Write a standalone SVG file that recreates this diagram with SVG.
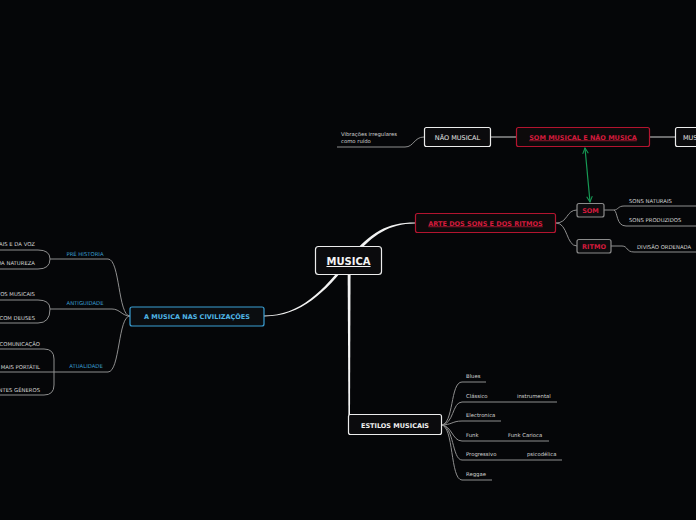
<svg xmlns="http://www.w3.org/2000/svg" width="696" height="520" viewBox="0 0 696 520">
<defs>
<style>
.bg{fill:#050608}
.ln{fill:none;stroke:#8e8e8e;stroke-width:1}
.lnw{fill:none;stroke:#d0d0d0;stroke-width:1}
.tap{fill:#f2f2f2}
.bw{fill:#0b0b0d;stroke:#ececec;stroke-width:1.2}
.br{fill:#0d0a0b;stroke:#b3142f;stroke-width:1.2}
.bb{fill:#0a0d10;stroke:#3a9fd4;stroke-width:1.2}
.bg2{fill:#0d0d0f;stroke:#8c8c8c;stroke-width:1.2}
text{font-family:"DejaVu Sans","Liberation Sans",sans-serif}
.s{font-size:5.3px;fill:#d6d6d6}
.sb{font-size:5.3px;fill:#3a9fd0}
.t{font-size:6.5px;fill:#e6e6e6}
.tb{font-size:6.5px;font-weight:bold;fill:#f0f0f0}
.tr{font-size:6.5px;font-weight:bold;fill:#d41a3c}
.tbl{font-size:6.5px;font-weight:bold;fill:#4fb6e6}
.green{fill:none;stroke:#179a55;stroke-width:1.2}
</style>
<marker id="ah" viewBox="0 0 10 10" refX="9" refY="5" markerWidth="7" markerHeight="7" orient="auto-start-reverse" markerUnits="userSpaceOnUse">
<path d="M1,1 L9,5 L1,9" fill="none" stroke="#179a55" stroke-width="1.5"/>
</marker>
</defs>
<rect class="bg" x="0" y="0" width="696" height="520"/>

<g id="connectors">
<path class="tap" d="M347.2,260 C369,234 385,222.6 415,222.6 L415,223.4 C386,223.8 371,236.5 349,262 Z"/>
<path class="tap" d="M347.2,260 C324,290 300,315.6 264,315.6 L264,316.4 C301,316.6 326,291.5 349,262 Z"/>
<path class="tap" d="M347.6,262 L350.6,262 L350,415 L348.4,415 Z"/>
<path class="lnw" d="M490,137 H516"/>
<path class="lnw" d="M649,137 H675"/>
<path class="ln" d="M337,147 H405 C414,147 414,137 424,137"/>
<path class="green" d="M585,148 L590,202" marker-start="url(#ah)" marker-end="url(#ah)"/>
<path class="ln" d="M556,223 C568,223 566,210 577,210"/>
<path class="ln" d="M556,223 C568,223 566,246 577,246"/>
<path class="ln" d="M604,210 H614 C618,210 618,206 624,206 H696"/>
<path class="ln" d="M614,210 C618,212 616,226 626,226 H696"/>
<path class="ln" d="M611,246 H622 C628,246 626,252 634,252 H696"/>
<path class="ln" d="M441,425 C454,425 450,382 462,382 H486"/>
<path class="ln" d="M441,425 C454,425 452,402 462,402 H557"/>
<path class="ln" d="M441,425 C452,425 452,421 462,421 H501"/>
<path class="ln" d="M441,425 C452,425 452,441 462,441 H549"/>
<path class="ln" d="M441,425 C454,425 452,460 462,460 H562"/>
<path class="ln" d="M441,425 C454,425 450,480 462,480 H492"/>
<path class="ln" d="M130,316 C118,316 120,259 108,259 H50"/>
<path class="ln" d="M130,316 C122,316 120,309 112,309 H50"/>
<path class="ln" d="M130,316 C118,316 120,372 108,372 H0"/>
<path class="ln" d="M0,250 H38 Q50,250 50,259 Q50,269 38,269 H0"/>
<path class="ln" d="M0,300 H38 Q50,300 50,309 Q50,323 38,323 H0"/>
<path class="ln" d="M0,349 H44 Q54,349 54,359 V385 Q54,395 44,395 H0"/>
</g>

<g id="musica">
<rect class="bw" x="315.5" y="246.5" width="66" height="28" rx="3"/>
<text x="348.5" y="265" text-anchor="middle" style="font-size:10px;font-weight:bold;fill:#f4f4f4;text-decoration:underline">MUSICA</text>
</g>

<g id="arte">
<rect class="br" x="415.5" y="213.5" width="140" height="19" rx="2"/>
<text class="tr" x="485.5" y="225.5" text-anchor="middle" style="text-decoration:underline">ARTE DOS SONS E DOS RITMOS</text>
</g>

<g id="som-musical">
<rect class="br" x="516.5" y="127.5" width="133" height="19" rx="2"/>
<text class="tr" x="583" y="139.5" text-anchor="middle" style="text-decoration:underline">SOM MUSICAL E NÃO MUSICA</text>
</g>

<g id="nao-musical">
<rect class="bw" x="424.5" y="127.5" width="66" height="19" rx="2"/>
<text class="t" x="457.5" y="139.5" text-anchor="middle">NÃO MUSICAL</text>
</g>

<g id="musical">
<rect class="bw" x="675.5" y="127.5" width="60" height="19" rx="2"/>
<text class="t" x="683" y="139.5">MUSICAL</text>
</g>

<g id="vibracoes">
<text class="s" x="341" y="136">Vibrações irregulares</text>
<text class="s" x="341" y="143">como ruído</text>
</g>

<g id="som">
<rect class="bg2" x="577" y="203.5" width="27" height="13.5" rx="2"/>
<text class="tr" x="590.5" y="212.5" text-anchor="middle">SOM</text>
</g>

<g id="ritmo">
<rect class="bg2" x="577" y="239.5" width="34" height="13.5" rx="2"/>
<text class="tr" x="594" y="248.5" text-anchor="middle">RITMO</text>
</g>

<g id="som-leaves">
<text class="s" x="629" y="203">SONS NATURAIS</text>
<text class="s" x="629" y="222">SONS PRODUZIDOS</text>
<text class="s" x="637" y="248.5">DIVISÃO ORDENADA</text>
</g>

<g id="estilos">
<rect class="bw" x="348.5" y="414.5" width="93" height="20" rx="2"/>
<text class="tb" x="395" y="427.5" text-anchor="middle">ESTILOS MUSICAIS</text>
</g>

<g id="estilos-leaves">
<text class="s" x="466" y="378">Blues</text>
<text class="s" x="466" y="398">Clássico</text>
<text class="s" x="517" y="398">instrumental</text>
<text class="s" x="466" y="417">Electronica</text>
<text class="s" x="466" y="437">Funk</text>
<text class="s" x="508" y="437">Funk Carioca</text>
<text class="s" x="466" y="456">Progressivo</text>
<text class="s" x="527" y="456">psicodélica</text>
<text class="s" x="466" y="476">Reggae</text>
</g>

<g id="civilizacoes">
<rect class="bb" x="130" y="307" width="134" height="19" rx="2"/>
<text class="tbl" x="197" y="318.8" text-anchor="middle">A MUSICA NAS CIVILIZAÇÕES</text>
</g>

<g id="civ-leaves">
<text class="sb" x="85" y="256" text-anchor="middle">PRÉ HISTORIA</text>
<text class="sb" x="85" y="305" text-anchor="middle">ANTIGUIDADE</text>
<text class="sb" x="86" y="368" text-anchor="middle">ATUALIDADE</text>
<text class="s" x="35" y="246" text-anchor="end">SONS CORPORAIS E DA VOZ</text>
<text class="s" x="35" y="265" text-anchor="end">SONS DA NATUREZA</text>
<text class="s" x="35" y="296" text-anchor="end">INSTRUMENTOS MUSICAIS</text>
<text class="s" x="35" y="319.5" text-anchor="end">COMUNICAÇÃO COM DEUSES</text>
<text class="s" x="40" y="346" text-anchor="end">MEIO DE COMUNICAÇÃO</text>
<text class="s" x="40" y="368.5" text-anchor="end">MAIS PORTÁTIL</text>
<text class="s" x="40" y="391.5" text-anchor="end">DIFERENTES GÊNEROS</text>
</g>
</svg>
